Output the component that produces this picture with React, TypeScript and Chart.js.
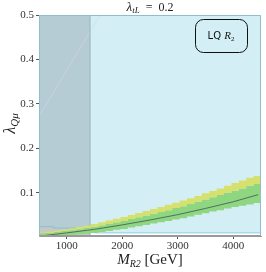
import React, { useEffect, useRef } from "react";
import { Chart, registerables } from "chart.js";
Chart.register(...registerables);

const X_MIN = 500;
const X_MAX = 4500;
const Y_MIN = 0.003;
const Y_MAX = 0.5;
const xTickValues = [1000, 2000, 3000, 4000];
const yTickValues = [0.1, 0.2, 0.3, 0.4, 0.5];

// staircase grid of the expected-limit bands
const bandX = [500, 633, 767, 900, 1033, 1167, 1300, 1433, 1567, 1700, 1833, 1967, 2100, 2233, 2367, 2500, 2633, 2767, 2900, 3033, 3167, 3300, 3433, 3567, 3700, 3833, 3967, 4100, 4233, 4367, 4500];
const greenLow = [0.003, 0.003, 0.003, 0.004, 0.005, 0.006, 0.007, 0.008, 0.010, 0.012, 0.014, 0.017, 0.019, 0.022, 0.025, 0.028, 0.031, 0.034, 0.037, 0.040, 0.043, 0.047, 0.051, 0.054, 0.058, 0.061, 0.065, 0.068, 0.071, 0.074, 0.077];
const greenHigh = [0.007, 0.009, 0.010, 0.012, 0.014, 0.016, 0.018, 0.021, 0.024, 0.027, 0.030, 0.034, 0.037, 0.041, 0.045, 0.049, 0.053, 0.057, 0.061, 0.066, 0.070, 0.075, 0.080, 0.085, 0.090, 0.095, 0.100, 0.105, 0.110, 0.116, 0.120];
const yellowHigh = [0.009, 0.011, 0.013, 0.015, 0.017, 0.020, 0.023, 0.026, 0.030, 0.034, 0.038, 0.042, 0.046, 0.050, 0.055, 0.059, 0.064, 0.068, 0.073, 0.078, 0.083, 0.088, 0.093, 0.099, 0.104, 0.110, 0.116, 0.122, 0.128, 0.134, 0.138];

// central expected line
const centerX = [600, 1000, 1500, 2000, 2500, 3000, 3500, 4000, 4450];
const centerY = [0.004, 0.010, 0.018, 0.028, 0.039, 0.051, 0.065, 0.080, 0.096];

// lower edge of excluded (cyan) region, stepped
const limitX = [500, 760, 1150, 1500, 2500, 4500];
const limitY = [0.031, 0.024, 0.021, 0.017, 0.010, 0.010];

// direct search exclusion (dark region)
const directEdge = 1420;

// faint diagonal contour
const diagX = [500, 1600];
const diagY = [0.272, 0.5];

const SERIF = '"Liberation Serif", "DejaVu Serif", serif';

type Seg = { t: string; font: string; dy?: number };
function drawRich(ctx: CanvasRenderingContext2D, segs: Seg[], x: number, y: number) {
  let total = 0;
  const widths = segs.map((s) => {
    ctx.font = s.font;
    const w = ctx.measureText(s.t).width;
    total += w;
    return w;
  });
  let cx = x - total / 2;
  ctx.textAlign = "left";
  ctx.textBaseline = "alphabetic";
  segs.forEach((s, i) => {
    ctx.font = s.font;
    ctx.fillText(s.t, cx, y + (s.dy || 0));
    cx += widths[i];
  });
}

const framePlugin = {
  id: "frame",
  afterDatasetsDraw(chart: any) {
    const { ctx, chartArea: a } = chart;
    ctx.save();
    ctx.lineWidth = 1;
    ctx.strokeStyle = "#8fbfcf";
    ctx.beginPath();
    ctx.moveTo(a.left + 0.5, a.bottom);
    ctx.lineTo(a.left + 0.5, a.top + 0.5);
    ctx.lineTo(a.right - 0.5, a.top + 0.5);
    ctx.lineTo(a.right - 0.5, a.bottom);
    ctx.stroke();
    ctx.strokeStyle = "#9a9a9a";
    ctx.beginPath();
    ctx.moveTo(a.left, a.bottom - 0.5);
    ctx.lineTo(a.right, a.bottom - 0.5);
    ctx.stroke();
    ctx.restore();
  },
};

const textPlugin = {
  id: "texts",
  afterDraw(chart: any) {
    const { ctx, chartArea: a } = chart;
    ctx.save();
    ctx.fillStyle = "#222";
    const cx = (a.left + a.right) / 2;
    drawRich(ctx, [
      { t: "λ", font: `italic 13px ${SERIF}` },
      { t: "tL", font: `italic 9px ${SERIF}`, dy: 2 },
      { t: "  =  0.2", font: `12px ${SERIF}` },
    ], cx, 11);
    drawRich(ctx, [
      { t: "M", font: `italic 15px ${SERIF}` },
      { t: "R2", font: `italic 10px ${SERIF}`, dy: 3 },
      { t: " [GeV]", font: `15px ${SERIF}` },
    ], cx, 264);
    ctx.save();
    ctx.translate(15, (a.top + a.bottom) / 2 - 2);
    ctx.rotate(-Math.PI / 2);
    drawRich(ctx, [
      { t: "λ", font: `italic 16px ${SERIF}` },
      { t: "Qμ", font: `italic 11px ${SERIF}`, dy: 3 },
    ], 0, 0);
    ctx.restore();
    // legend box
    ctx.strokeStyle = "#111";
    ctx.lineWidth = 1;
    ctx.beginPath();
    (ctx as any).roundRect(195.5, 19.5, 52, 33, 8);
    ctx.stroke();
    ctx.fillStyle = "#111";
    drawRich(ctx, [
      { t: "LQ ", font: `10px "DejaVu Sans", sans-serif` },
      { t: "R", font: `italic 11px ${SERIF}` },
      { t: "2", font: `7px ${SERIF}`, dy: 2 },
    ], 221, 39);
    ctx.restore();
  },
};

export default function App() {
  const ref = useRef<HTMLCanvasElement>(null);
  useEffect(() => {
    document.body.style.margin = "0";
    const pts = (xs: number[], ys: number[]) => xs.map((x, i) => ({ x, y: ys[i] }));
    const limitPts = pts(limitX, limitY);
    const limitAt = (x: number) => {
      let v = limitY[0];
      limitX.forEach((lx, i) => { if (lx <= x) v = limitY[i]; });
      return v;
    };
    const darkPts = [...limitPts.filter((p) => p.x < directEdge), { x: directEdge, y: limitAt(directEdge) }];
    const base = { pointRadius: 0, borderWidth: 1, tension: 0 };
    const chart = new Chart(ref.current!, {
      type: "line",
      data: {
        datasets: [
          { ...base, data: [{ x: X_MIN, y: Y_MAX }, { x: directEdge, y: Y_MAX }], fill: "start", backgroundColor: "#c7c7c7", borderColor: "transparent", order: 20 },
          { ...base, data: limitPts, stepped: "after", fill: "end", backgroundColor: "#d4eef6", borderColor: "#8fd0e2", order: 19 },
          { ...base, data: darkPts, stepped: "after", fill: "end", backgroundColor: "#b6ccd4", borderColor: "#8fbfcf", order: 18 },
          { ...base, data: pts(diagX, diagY), borderColor: "rgba(218,210,238,0.6)", borderWidth: 1, fill: false, order: 17 },
          { ...base, data: [{ x: directEdge, y: Y_MIN }, { x: directEdge, y: Y_MAX }], borderColor: "#98b3bd", fill: false, order: 16 },
          { ...base, data: pts(bandX, greenLow), stepped: "after", borderColor: "transparent", borderWidth: 0, fill: false, order: 15 },
          { ...base, data: pts(bandX, greenHigh), stepped: "after", borderColor: "transparent", borderWidth: 0, fill: 5, backgroundColor: "#8fd680", order: 14 },
          { ...base, data: pts(bandX, yellowHigh), stepped: "after", borderColor: "transparent", borderWidth: 0, fill: 6, backgroundColor: "#d5e16c", order: 13 },
          { ...base, data: pts(centerX, centerY), borderColor: "#4f6f60", borderWidth: 1, fill: false, order: 12 },
        ],
      },
      options: {
        animation: false,
        responsive: false,
        devicePixelRatio: 1,
        layout: { padding: { top: 15, right: 5, left: 0, bottom: 0 } },
        plugins: { legend: { display: false }, tooltip: { enabled: false }, title: { display: false } },
        scales: {
          x: {
            type: "linear",
            min: X_MIN,
            max: X_MAX,
            afterBuildTicks: (s: any) => { s.ticks = xTickValues.map((v) => ({ value: v })); },
            afterFit: (s: any) => { s.height = 36; },
            ticks: { font: { family: SERIF, size: 11 }, color: "#333", maxRotation: 0, padding: 1, callback: (v: any) => String(v) },
            grid: { drawOnChartArea: false, tickLength: 3, color: "#555" },
            border: { color: "#9a9a9a" },
          },
          y: {
            type: "linear",
            min: Y_MIN,
            max: Y_MAX,
            afterBuildTicks: (s: any) => { s.ticks = yTickValues.map((v) => ({ value: v })); },
            afterFit: (s: any) => { s.width = 39; },
            ticks: { font: { family: SERIF, size: 11 }, color: "#333", padding: 2, callback: (v: any) => Number(v).toFixed(1) },
            grid: { drawOnChartArea: false, tickLength: 3, color: "#555" },
            border: { color: "#8fbfcf" },
          },
        },
      },
      plugins: [framePlugin, textPlugin],
    });
    return () => chart.destroy();
  }, []);
  return (
    <div style={{ width: 266, height: 272, position: "relative" }}>
      <canvas ref={ref} width={266} height={272} />
    </div>
  );
}
